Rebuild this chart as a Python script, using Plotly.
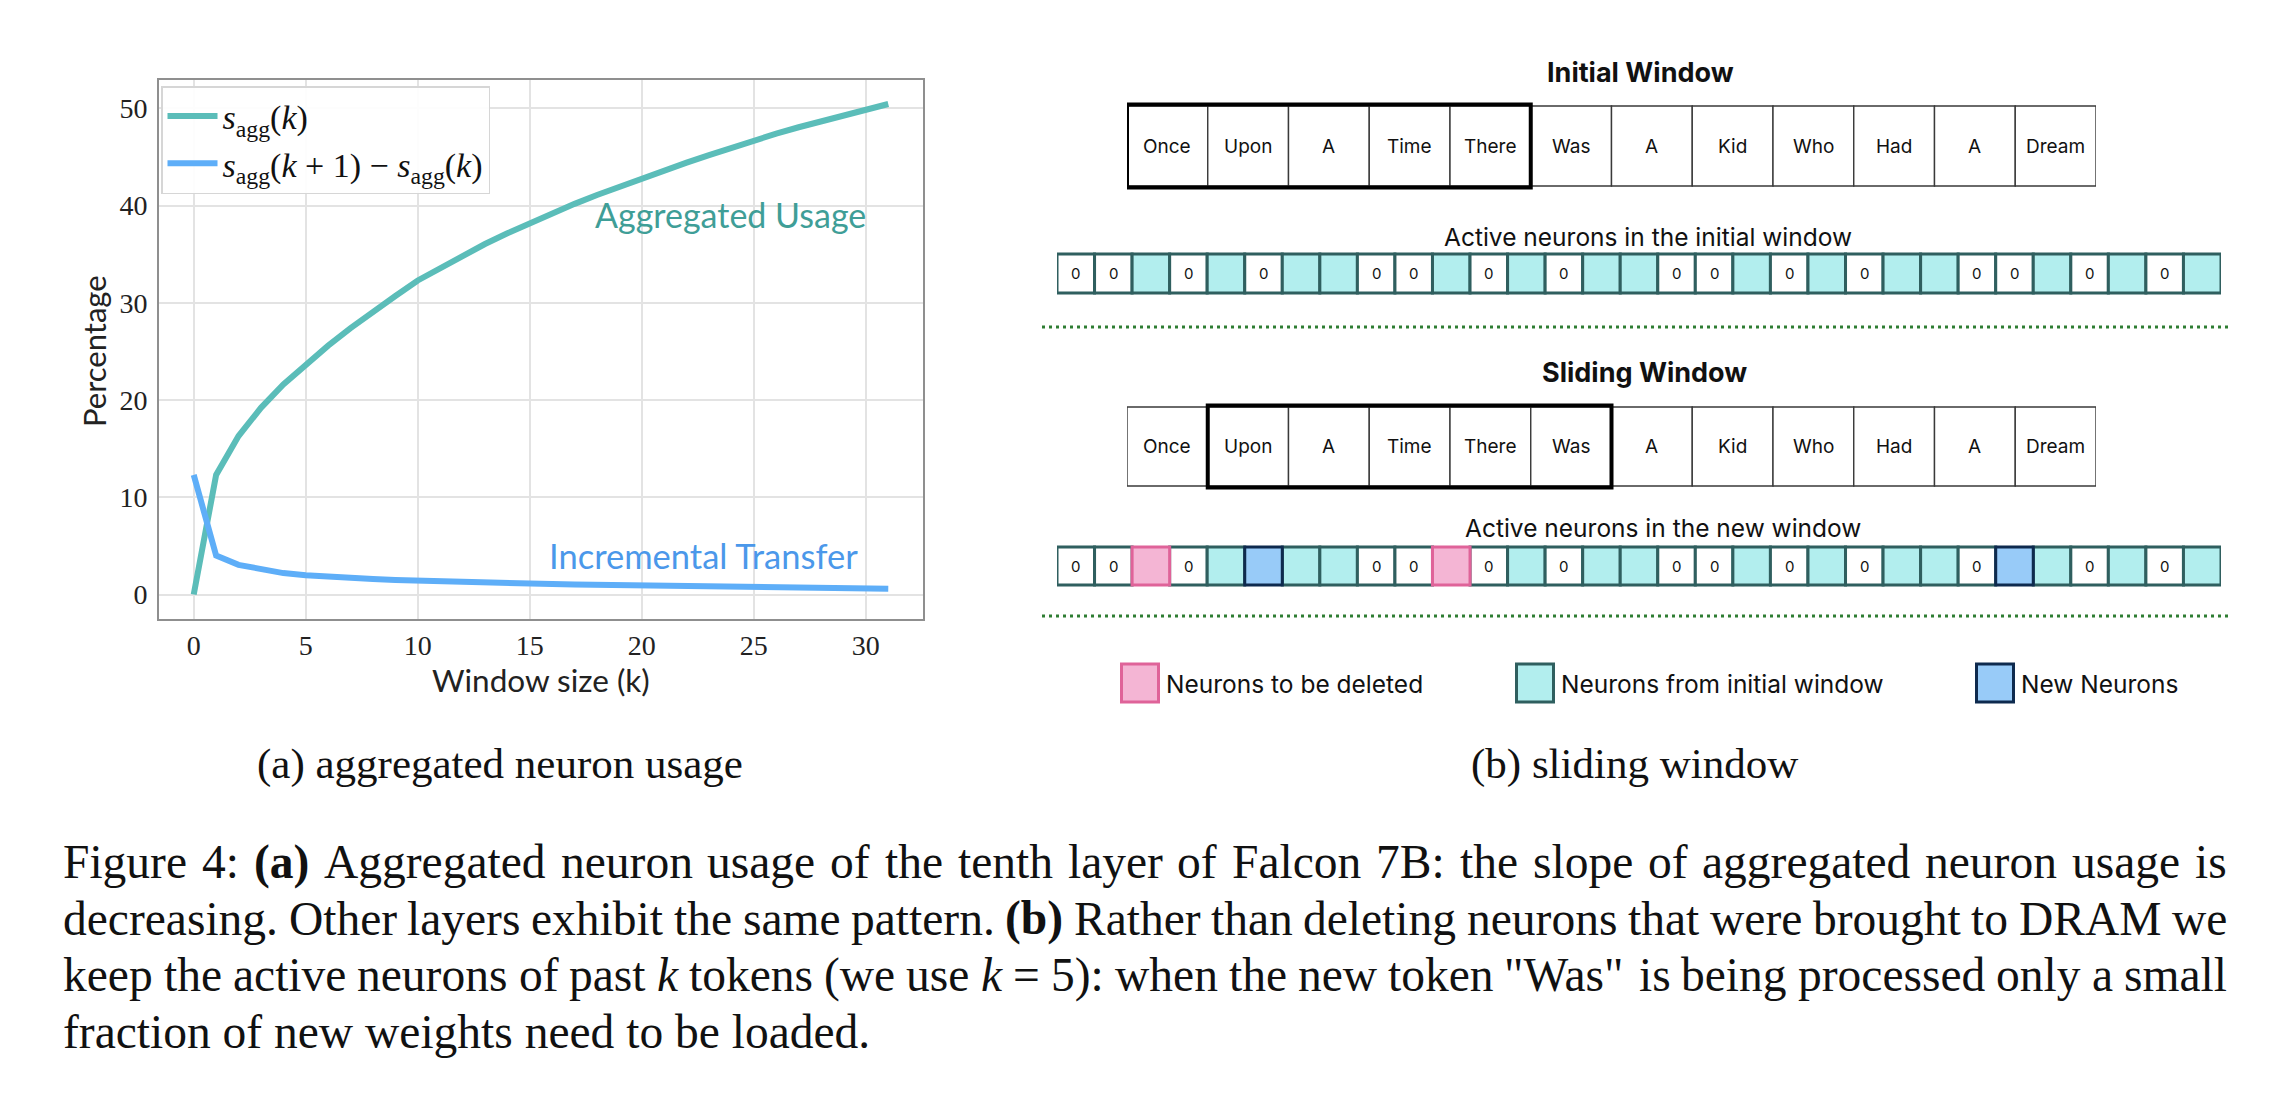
import plotly.graph_objects as go

# ---------------- data ----------------
k_values = list(range(32))
s_agg = [0, 12.3, 16.3, 19.2, 21.6, 23.7, 25.6, 27.4, 29.1, 30.7, 32.3,
         33.6, 34.85, 36.05, 37.15, 38.2, 39.22, 40.18, 41.09, 41.96, 42.8,
         43.62, 44.42, 45.2, 45.96, 46.7, 47.4, 48.06, 48.69, 49.3, 49.9, 50.45]
s_diff = [12.3, 4.0, 3.05, 2.55, 2.2, 1.98, 1.82, 1.7, 1.6, 1.5, 1.42,
          1.35, 1.28, 1.22, 1.17, 1.12, 1.07, 1.03, 0.99, 0.95, 0.92,
          0.89, 0.86, 0.83, 0.8, 0.77, 0.74, 0.71, 0.68, 0.65, 0.62, 0.6]
x_ticks = [0, 5, 10, 15, 20, 25, 30]
y_ticks = [0, 10, 20, 30, 40, 50]

tokens = ["Once", "Upon", "A", "Time", "There", "Was", "A", "Kid", "Who", "Had", "A", "Dream"]
initial_window = [0, 5]   # token index range (start, end)
sliding_window = [1, 6]

# z = inactive ("0"), t = from initial window, p = to be deleted, b = new neuron
initial_neurons = ['z', 'z', 't', 'z', 't', 'z', 't', 't',
                   'z', 'z', 't', 'z', 't', 'z', 't', 't',
                   'z', 'z', 't', 'z', 't', 'z', 't', 't',
                   'z', 'z', 't', 'z', 't', 'z', 't']
new_neurons = ['z', 'z', 'p', 'z', 't', 'b', 't', 't',
               'z', 'z', 'p', 'z', 't', 'z', 't', 't',
               'z', 'z', 't', 'z', 't', 'z', 't', 't',
               'z', 'b', 't', 'z', 't', 'z', 't']
legend_labels = ["Neurons to be deleted", "Neurons from initial window", "New Neurons"]
legend_kinds = ['p', 't', 'b']

caption_a = "(a) aggregated neuron usage"
caption_b = "(b) sliding window"
figure_caption = [
    "Figure 4: <b>(a)</b> Aggregated neuron usage of the tenth layer of Falcon 7B: the slope of aggregated neuron usage is",
    "decreasing. Other layers exhibit the same pattern. <b>(b)</b> Rather than deleting neurons that were brought to DRAM we",
    "keep the active neurons of past <i>k</i> tokens (we use <i>k</i> = 5): when the new token \"Was\" is being processed only a small",
    "fraction of new weights need to be loaded.",
]
caption_justified = [True, True, True, False]

# ---------------- styling ----------------
W, H = 2294, 1096
OFF = 8   # page body margin of the html page
TEAL = "#5bbdb9"
BLUE = "#5eaef8"
cell_style = {
    'z': dict(fill="#ffffff", line="#2f5f5f"),
    't': dict(fill="#b2eeee", line="#2f5f5f"),
    'p': dict(fill="#f4b5d4", line="#df6399"),
    'b': dict(fill="#98cbf8", line="#0e2a4e"),
}
SANS = "Inter"
SERIF = "Liberation Serif"
CAP_SIZE = 47.5


def px(x):
    return (x - OFF) / W


def py(y):
    return 1 - (y - OFF) / H


def ann(text, x, y, size, family=SANS, color="#111", xanchor="center", yanchor="middle",
        xref="paper", yref="paper", **kw):
    if xref == "paper":
        x = px(x)
    if yref == "paper":
        y = py(y)
    return dict(text=text, x=x, y=y, xref=xref, yref=yref, xanchor=xanchor, yanchor=yanchor,
                showarrow=False, font=dict(family=family, size=size, color=color), **kw)


# Times-compatible advance widths (per 1000 em) for estimating word widths
_TW = {' ': 250, '!': 333, '"': 408, '(': 333, ')': 333, ':': 278, '.': 250, ',': 250, '-': 333, '=': 564}
_TW.update({d: 500 for d in "0123456789"})
_TW.update(dict(zip("ABCDEFGHIJKLMNOPQRSTUVWXYZ",
                    [722, 667, 667, 722, 611, 556, 722, 722, 333, 389, 722, 611, 889,
                     722, 722, 556, 722, 667, 556, 611, 722, 722, 944, 722, 722, 611])))
_TW.update(dict(zip("abcdefghijklmnopqrstuvwxyz",
                    [444, 500, 444, 500, 444, 333, 500, 500, 278, 278, 500, 278, 778,
                     500, 500, 500, 500, 333, 389, 278, 500, 500, 722, 500, 500, 444])))
_TB = {'(': 333, ')': 333, 'a': 500, 'b': 556}
_TI = {'k': 444}


def word_width(word, size):
    w, mode, i = 0, None, 0
    while i < len(word):
        if word.startswith("<b>", i):
            mode, i = 'b', i + 3
            continue
        if word.startswith("<i>", i):
            mode, i = 'i', i + 3
            continue
        if word.startswith("</b>", i) or word.startswith("</i>", i):
            mode, i = None, i + 4
            continue
        ch = word[i]
        table = _TB if mode == 'b' else (_TI if mode == 'i' else _TW)
        w += table.get(ch, _TW.get(ch, 500))
        i += 1
    return w * size / 1000.0


fig = go.Figure()

# ---------------- left chart ----------------
fig.add_trace(go.Scatter(
    x=k_values, y=s_agg, mode="lines", line=dict(color=TEAL, width=6),
    name="<i>s</i><sub>agg</sub>(<i>k</i>)"))
fig.add_trace(go.Scatter(
    x=k_values, y=s_diff, mode="lines", line=dict(color=BLUE, width=6),
    name="<i>s</i><sub>agg</sub>(<i>k</i> + 1) \u2212 <i>s</i><sub>agg</sub>(<i>k</i>)"))

# dummy traces so the diagram axes exist
for xa in ["x2", "x3"]:
    fig.add_trace(go.Scatter(x=[0], y=[OFF], xaxis=xa, yaxis="y2", mode="markers",
                             marker=dict(opacity=0), showlegend=False, hoverinfo="skip"))

ax_common = dict(showgrid=True, gridcolor="#e3e3e3", gridwidth=2, zeroline=False,
                 showline=True, linecolor="#8f8f8f", linewidth=2, mirror=True,
                 ticks="", tickfont=dict(family=SERIF, size=28, color="#222"), automargin=False)
fig.update_layout(
    xaxis=dict(domain=[px(159), px(923)], range=[-1.55, 32.55], tickvals=x_ticks,
               anchor="y", ticklabelstandoff=0, **ax_common),
    yaxis=dict(domain=[py(619), py(80)], range=[-2.52, 52.92], tickvals=y_ticks,
               anchor="x", ticklabelstandoff=4, **ax_common),
    xaxis2=dict(domain=[px(1127), px(2096)], range=[0, len(tokens)], anchor="y2", visible=False),
    xaxis3=dict(domain=[px(1057), px(2221)], range=[0, len(initial_neurons)], anchor="y2", visible=False),
    yaxis2=dict(domain=[0, 1], range=[H + OFF, OFF], anchor="x2", visible=False),
)

annotations = []
# axis titles and curve labels
annotations.append(ann("Window size (k)", 541, 680, 31.5, family="Lato", color="#222"))
annotations.append(ann("Percentage", 94, 351, 31, family="Lato", color="#222", textangle=-90))
annotations.append(ann("Aggregated Usage", 730, 214, 34, family="Lato", color="#3f9e97"))
annotations.append(ann("Incremental Transfer", 703, 555, 34.5, family="Lato", color="#4b98ea"))

# ---------------- right diagram ----------------
shapes = []
token_rows = [(106, 186, initial_window), (407, 486, sliding_window)]
for (y0, y1, win) in token_rows:
    for i, tok in enumerate(tokens):
        shapes.append(dict(type="rect", xref="x2", yref="y2", x0=i, x1=i + 1, y0=y0, y1=y1,
                           line=dict(color="#3a3a3a", width=1.4), fillcolor="white", layer="above"))
        annotations.append(ann(tok, i + 0.5, (y0 + y1) / 2, 19, xref="x2", yref="y2"))
    shapes.append(dict(type="rect", xref="x2", yref="y2", x0=win[0], x1=win[1], y0=y0 - 1.5, y1=y1 + 1.5,
                       line=dict(color="#000", width=4), layer="above"))

neuron_rows = [(254, 293, initial_neurons), (547, 585, new_neurons)]
for (y0, y1, states) in neuron_rows:
    order = [i for i, s in enumerate(states) if s in "zt"] + [i for i, s in enumerate(states) if s in "pb"]
    for i in order:
        st = cell_style[states[i]]
        shapes.append(dict(type="rect", xref="x3", yref="y2", x0=i, x1=i + 1, y0=y0, y1=y1,
                           line=dict(color=st["line"], width=3), fillcolor=st["fill"], layer="above"))
        if states[i] == 'z':
            annotations.append(ann("0", i + 0.5, (y0 + y1) / 2, 15, xref="x3", yref="y2"))

# section titles
annotations.append(ann("<b>Initial Window</b>", 1640, 73, 27))
annotations.append(ann("<b>Sliding Window</b>", 1644, 372, 27))
annotations.append(ann("Active neurons in the initial window", 1648, 237, 24.5))
annotations.append(ann("Active neurons in the new window", 1663, 528, 24.5))

# dotted separators
for yline in (327, 616):
    shapes.append(dict(type="line", xref="paper", yref="paper", x0=px(1042), x1=px(2230),
                       y0=py(yline), y1=py(yline), line=dict(color="#2e7d32", width=3, dash="3px,4px")))

# diagram legend
legend_x = [1120, 1515, 1975]
for lx, lab, kind in zip(legend_x, legend_labels, legend_kinds):
    st = cell_style[kind]
    shapes.append(dict(type="rect", xref="paper", yref="paper", x0=px(lx + 1.5), x1=px(lx + 38.5),
                       y0=py(664), y1=py(702), line=dict(color=st["line"], width=3), fillcolor=st["fill"]))
    annotations.append(ann(lab, lx + 44, 684, 24.5, xanchor="left"))

# sub captions
annotations.append(ann(caption_a, 500, 764, 43, family=SERIF))
annotations.append(ann(caption_b, 1634, 764, 43, family=SERIF))

# figure caption (justified lines placed word by word)
CAP_LEFT, CAP_RIGHT, PAD = 66, 2230, 5
for j, (line, just) in enumerate(zip(figure_caption, caption_justified)):
    yc = 862 + 56.5 * j
    if not just:
        annotations.append(ann(line, CAP_LEFT - PAD, yc, CAP_SIZE, family=SERIF, xanchor="left"))
        continue
    words = line.split(" ")
    widths = [word_width(wd, CAP_SIZE) for wd in words]
    gap = (CAP_RIGHT - CAP_LEFT - sum(widths)) / (len(words) - 1)
    xpos = CAP_LEFT
    for wd, ww in zip(words, widths):
        annotations.append(ann(wd, xpos - PAD, yc, CAP_SIZE, family=SERIF, xanchor="left"))
        xpos += ww + gap

fig.update_layout(
    width=W, height=H, margin=dict(l=0, r=0, t=0, b=0),
    paper_bgcolor="white", plot_bgcolor="white",
    shapes=shapes, annotations=annotations,
    showlegend=True,
    legend=dict(x=px(161), y=py(86), xanchor="left", yanchor="top",
                bgcolor="rgba(255,255,255,0.9)", bordercolor="#d6d6d6", borderwidth=1.5,
                font=dict(family=SERIF, size=34, color="#111"), itemwidth=50,
                tracegroupgap=8),
)

fig.write_html("out.html")
